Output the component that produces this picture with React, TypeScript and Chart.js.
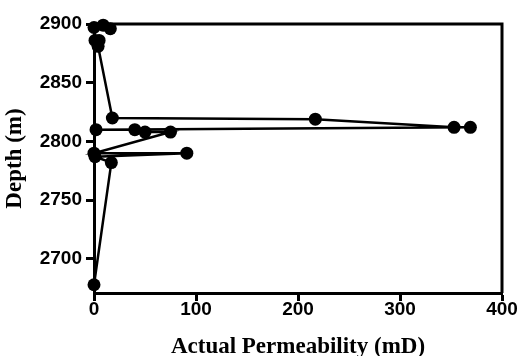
import React, { useEffect, useRef } from "react";
import { Chart, registerables } from "chart.js";

Chart.register(...registerables);

// Data (in drawing order)
const permeability = [0, 17, 1, 91, 0, 75, 50, 40, 2, 369, 353, 217, 18, 4, 5, 1, 0, 9, 16];
const depth = [2678, 2782, 2787, 2790, 2790, 2808, 2808, 2810, 2810, 2812, 2812, 2819, 2820, 2881, 2886, 2886, 2897, 2899, 2896];

const xTicks = [0, 100, 200, 300, 400];
const yTicks = [2700, 2750, 2800, 2850, 2900];

const xTitle = "Actual Permeability (mD)";
const yTitle = "Depth (m)";

export default function App() {
  const ref = useRef<HTMLCanvasElement | null>(null);

  useEffect(() => {
    if (!ref.current) return;
    const points = permeability.map((x, i) => ({ x, y: depth[i] }));

    const framePlugin = {
      id: "frame",
      beforeDatasetsDraw(chart: any) {
        const { ctx, chartArea } = chart;
        ctx.save();
        ctx.strokeStyle = "#000";
        ctx.lineWidth = 3;
        ctx.beginPath();
        ctx.moveTo(chartArea.left, chartArea.top);
        ctx.lineTo(chartArea.right, chartArea.top);
        ctx.lineTo(chartArea.right, chartArea.bottom);
        ctx.stroke();
        ctx.restore();
      },
    };

    const tickFont = { family: "'Liberation Sans', Arial, sans-serif", size: 19, weight: "bold" as const };
    const titleFont = { family: "'Liberation Serif', 'Times New Roman', serif", size: 23, weight: "bold" as const, lineHeight: 0.8 };
    const plain = (v: any) => String(v);

    const chart = new Chart(ref.current, {
      type: "scatter",
      data: {
        datasets: [
          {
            data: points,
            showLine: true,
            borderColor: "#000",
            backgroundColor: "#000",
            borderWidth: 2.5,
            pointRadius: 6.5,
            pointBorderWidth: 0,
            pointBackgroundColor: "#000",
            clip: false as any,
          },
        ],
      },
      options: {
        responsive: false,
        animation: false,
        devicePixelRatio: 1,
        layout: { padding: { top: 24, right: 19, left: 0, bottom: 0 } },
        plugins: { legend: { display: false }, tooltip: { enabled: false } },
        scales: {
          x: {
            type: "linear",
            position: "bottom",
            min: 0,
            max: 400,
            afterBuildTicks: (s: any) => {
              s.ticks = xTicks.map((v) => ({ value: v }));
            },
            afterFit: (s: any) => {
              s.height = 63;
            },
            ticks: { font: tickFont, color: "#000", padding: -3, maxRotation: 0, callback: plain },
            grid: { drawOnChartArea: false, drawTicks: true, tickLength: 8, tickWidth: 3, tickColor: "#000" },
            border: { display: true, width: 3, color: "#000" },
            title: { display: true, text: xTitle, font: titleFont, color: "#000", padding: { top: 0, bottom: 0 } },
          },
          y: {
            type: "linear",
            min: 2671,
            max: 2900,
            afterBuildTicks: (s: any) => {
              s.ticks = yTicks.map((v) => ({ value: v }));
            },
            afterFit: (s: any) => {
              s.width = 94;
            },
            ticks: { font: tickFont, color: "#000", padding: 4, callback: plain },
            grid: { drawOnChartArea: false, drawTicks: true, tickLength: 8, tickWidth: 3, tickColor: "#000" },
            border: { display: true, width: 3, color: "#000" },
            title: { display: true, text: yTitle, font: { ...titleFont, lineHeight: 1 }, color: "#000", padding: { top: 4, bottom: 0 } },
          },
        },
      },
      plugins: [framePlugin],
    });

    return () => chart.destroy();
  }, []);

  return (
    <div style={{ position: "absolute", left: 0, top: 0, width: 521, height: 356, background: "#fff" }}>
      <canvas ref={ref} width={521} height={356} />
    </div>
  );
}
